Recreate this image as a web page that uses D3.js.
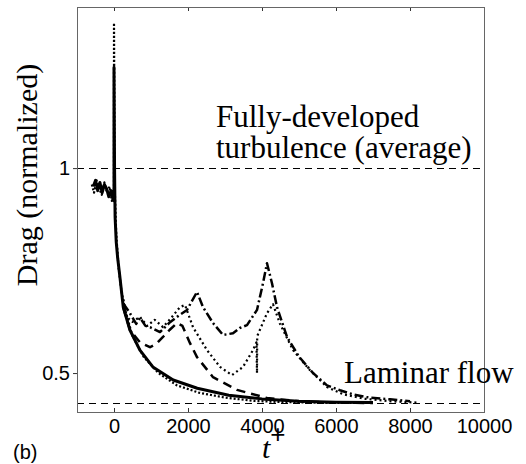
<!DOCTYPE html>
<html>
<head>
<meta charset="utf-8">
<script src="https://cdn.jsdelivr.net/npm/d3@7"></script>
<style>
  body { margin: 0; background: #fff; }
  .tick text { font-family: "Liberation Sans", Arial, sans-serif; font-size: 20px; fill: #000; }
  .serif { font-family: "Liberation Serif", "Times New Roman", serif; fill: #000; }
</style>
</head>
<body>
<svg class="chart"></svg>
<script>
// reference levels
var turbulentLevel = 1;
var laminarLevel = 0.427;

var xTicks = [0, 2000, 4000, 6000, 8000, 10000];
var yTicks = [0.5, 1];

// solid: drops straight to the laminar curve
var solidT = [-560, -500, -440, -380, -320, -260, -200, -140, -80, -30, 0, 0, 15, 30, 60, 100, 160, 250, 430, 700, 1050, 1600, 2250, 3100, 4000, 5000, 6000, 7000];
var solidV = [0.955, 0.97, 0.945, 0.965, 0.94, 0.96, 0.95, 0.93, 0.945, 0.925, 0.92, 1.246, 1.0, 0.88, 0.82, 0.78, 0.734, 0.661, 0.605, 0.556, 0.515, 0.483, 0.463, 0.446, 0.437, 0.431, 0.429, 0.428];

// dotted, close under the solid one (with the tallest spike)
var lowDotT = [-600, -540, -470, -400, -330, -260, -190, -120, -60, 0, 0, 20, 60, 120, 200, 300, 500, 800, 1200, 1700, 2300, 3000, 3800, 4600, 5500, 6500];
var lowDotV = [0.96, 0.94, 0.97, 0.95, 0.935, 0.965, 0.94, 0.955, 0.92, 0.93, 1.354, 0.95, 0.84, 0.76, 0.7, 0.655, 0.59, 0.54, 0.5, 0.47, 0.452, 0.44, 0.432, 0.429, 0.428, 0.427];

// dotted, two peaks
var dotT = [250, 343, 500, 700, 900, 1100, 1324, 1550, 1784, 1919, 2135, 2513, 2865, 3189, 3487, 3757, 3850, 3865, 3870, 4135, 4297, 4486, 4838, 5297, 5757, 6200, 6800, 7500, 8200];
var dotV = [0.68, 0.637, 0.625, 0.637, 0.615, 0.63, 0.612, 0.635, 0.661, 0.666, 0.612, 0.556, 0.515, 0.495, 0.515, 0.556, 0.575, 0.5, 0.59, 0.646, 0.668, 0.62, 0.556, 0.507, 0.466, 0.448, 0.437, 0.431, 0.428];

// dash-dot, two higher peaks
var dashDotT = [250, 432, 600, 703, 850, 973, 1243, 1514, 1703, 1973, 2243, 2405, 2676, 2946, 3216, 3400, 3595, 3865, 4027, 4135, 4270, 4405, 4676, 5000, 5378, 5757, 6108, 6500, 6838, 7460, 8000];
var dashDotV = [0.67, 0.646, 0.62, 0.635, 0.615, 0.612, 0.6, 0.624, 0.637, 0.654, 0.698, 0.661, 0.622, 0.593, 0.597, 0.61, 0.617, 0.654, 0.719, 0.768, 0.719, 0.661, 0.588, 0.54, 0.5, 0.47, 0.458, 0.447, 0.441, 0.436, 0.431];

// long dashes, one small bump
var dashT = [250, 432, 700, 973, 1150, 1324, 1500, 1703, 1850, 2054, 2243, 2676, 3324, 4135, 5000, 6000, 7000];
var dashV = [0.66, 0.605, 0.575, 0.563, 0.572, 0.588, 0.605, 0.622, 0.615, 0.573, 0.539, 0.49, 0.459, 0.439, 0.431, 0.428, 0.427];

var W = 526, H = 464;
var padL = 77, padR = 484, padT = 7, padB = 412;

var svg = d3.select('.chart')
  .attr('width', W)
  .attr('height', H);

var x = d3.scaleLinear().domain([-1000, 10000]).range([padL, padR]);
var y = d3.scaleLinear().domain([0.405, 1.393]).range([padB, padT]);

// reference lines
[turbulentLevel, laminarLevel].forEach(function(v) {
  svg.append('line')
    .attr('x1', padL).attr('x2', padR)
    .attr('y1', Math.round(y(v)) + 0.5).attr('y2', Math.round(y(v)) + 0.5)
    .attr('stroke', '#000')
    .attr('stroke-width', 1)
    .attr('stroke-dasharray', '7,5');
});

var line = d3.line()
  .x(d => x(d[0]))
  .y(d => y(d[1]));

var series = [
  { t: lowDotT, v: lowDotV, dash: '2,2', w: 2.2 },
  { t: dotT, v: dotV, dash: '2,3', w: 2.2 },
  { t: dashDotT, v: dashDotV, dash: '9,3,2,3', w: 2.5 },
  { t: dashT, v: dashV, dash: '9,6', w: 2.5 },
  { t: solidT, v: solidV, dash: null, w: 3 }
];

series.forEach(function(s) {
  svg.append('path')
    .datum(d3.zip(s.t, s.v))
    .attr('d', line)
    .attr('fill', 'none')
    .attr('stroke', '#000')
    .attr('stroke-width', s.w)
    .attr('stroke-linejoin', 'round')
    .attr('stroke-dasharray', s.dash);
});

// axes
svg.append('g')
  .attr('transform', 'translate(0,' + padB + ')')
  .call(d3.axisBottom(x).tickValues(xTicks).tickSizeInner(-4).tickSizeOuter(0).tickPadding(7).tickFormat(d3.format('d')));
svg.append('g')
  .attr('transform', 'translate(0,' + padT + ')')
  .call(d3.axisTop(x).tickValues(xTicks).tickSizeInner(-4).tickSizeOuter(0).tickFormat(''));
svg.append('g')
  .attr('transform', 'translate(' + padL + ',0)')
  .call(d3.axisLeft(y).tickValues(yTicks).tickSizeInner(4).tickSizeOuter(0).tickPadding(3).tickFormat(d3.format('')));

svg.selectAll('.domain').remove();
svg.selectAll('.tick line').attr('stroke', '#333');

svg.append('rect')
  .attr('x', padL + 0.5).attr('y', padT + 0.5)
  .attr('width', padR - padL).attr('height', padB - padT)
  .attr('fill', 'none')
  .attr('stroke', '#666')
  .attr('stroke-width', 1);

// annotations
svg.append('text').attr('class', 'serif')
  .attr('x', 216).attr('y', 127)
  .style('font-size', '31px')
  .text('Fully-developed');
svg.append('text').attr('class', 'serif')
  .attr('x', 216).attr('y', 158)
  .style('font-size', '31px')
  .text('turbulence (average)');
svg.append('text').attr('class', 'serif')
  .attr('x', 344).attr('y', 383)
  .style('font-size', '31px')
  .text('Laminar flow');

svg.append('text').attr('class', 'serif')
  .attr('transform', 'translate(37,175) rotate(-90)')
  .attr('text-anchor', 'middle')
  .style('font-size', '30px')
  .text('Drag (normalized)');

var tl = svg.append('text').attr('class', 'serif')
  .attr('x', 262).attr('y', 458)
  .style('font-size', '30px');
tl.append('tspan').style('font-style', 'italic').text('t');
tl.append('tspan').attr('dy', -15).style('font-family', 'Liberation Sans, Arial, sans-serif').style('font-size', '26px').text('+');

svg.append('text')
  .attr('x', 13).attr('y', 459)
  .style('font-family', 'Liberation Sans, Arial, sans-serif')
  .style('font-size', '20px')
  .text('(b)');
</script>
</body>
</html>
